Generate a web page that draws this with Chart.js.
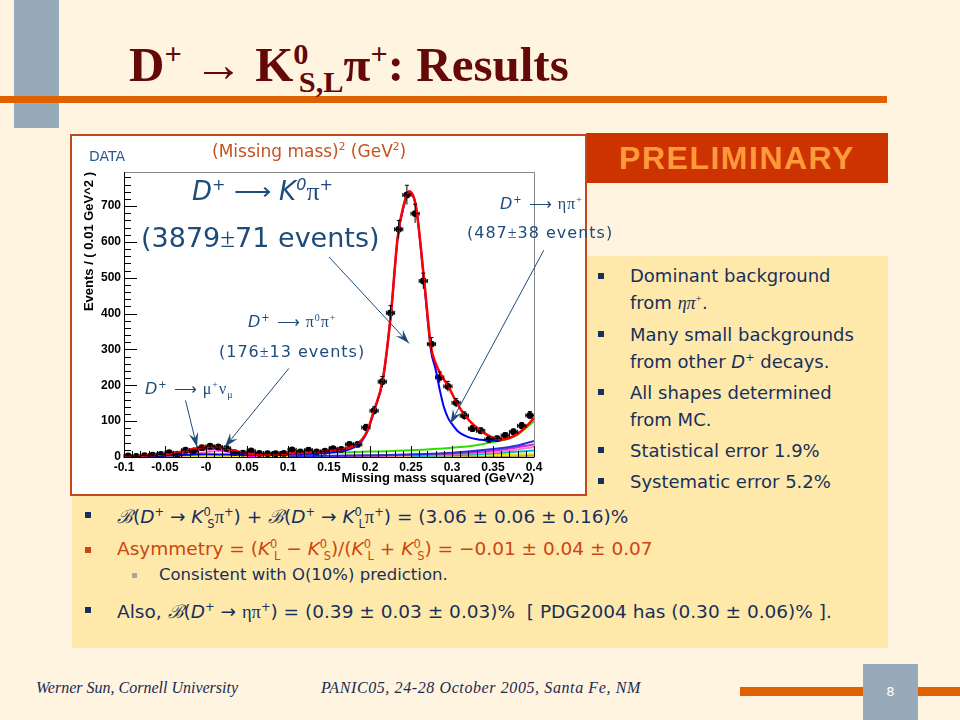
<!DOCTYPE html>
<html>
<head>
<meta charset="utf-8">
<script src="https://cdn.jsdelivr.net/npm/chart.js@4.4.1/dist/chart.umd.min.js"></script>
<style>
  body { margin:0; width:960px; height:720px; background:#FFF4DF; position:relative; overflow:hidden; font-family:"DejaVu Sans", sans-serif; }
  .abs { position:absolute; white-space:nowrap; }
  #sidebar { left:14px; top:0; width:45px; height:128px; background:#97AABA; }
  #topbar { left:0; top:96px; width:887px; height:7px; background:#DF6100; }
  #title { left:129px; top:36px; font:bold 49px "Liberation Serif", serif; color:#650808; }
  #title sup, #title sub { font-size:0.62em; }
  #yellow { left:72px; top:256px; width:816px; height:392px; background:#FFE9AA; }
  #prelim { left:586px; top:133px; width:302px; height:50px; background:#CC3300; color:#FF9A3C;
            font:bold 32px "Liberation Sans", Arial, sans-serif; text-align:center; line-height:50px; letter-spacing:1.5px; }
  #chartbox { left:70px; top:134px; width:513px; height:358px; border:2px solid #C8461C; background:#fff; }
  #chartwrap { position:absolute; left:0; top:0; width:513px; height:358px; }
  .note { color:#1E4B7A; }
  .sm { font-size:16px; letter-spacing:1px; }
  .gr { font-family:"Liberation Serif", serif; }
  .bul { color:#16305E; font-size:18px; }
  .sq { display:inline-block; width:6px; height:6px; background:#16305E; }
  .bt { color:#16305E; font-size:18.5px; }
  .bt i, .bul i { font-style:italic; }
  sup, sub { font-size:0.62em; line-height:0; }
  #footer1 { left:36px; top:679px; font:italic 16px "Liberation Serif", serif; color:#1A2A50; }
  #footer2 { left:321px; top:679px; font:italic 16px "Liberation Serif", serif; color:#1A2A50; letter-spacing:0.6px; }
  #botbar { left:740px; top:687px; width:220px; height:9px; background:#DF6100; }
  #pagebox { left:863px; top:664px; width:55px; height:56px; background:#97AABA; color:#fff; font:13px "DejaVu Sans", sans-serif; text-align:center; line-height:56px; }
</style>
</head>
<body>
<div class="abs" id="sidebar"></div>
<div class="abs" id="topbar"></div>
<div class="abs" id="title">D<sup>+</sup> → K<sup>0</sup><sub style="margin-left:-0.32em">S,L</sub>π<sup>+</sup>: Results</div>
<div class="abs" id="yellow"></div>
<div class="abs" id="prelim">PRELIMINARY</div>
<div class="abs" id="chartbox"><div id="chartwrap"><canvas id="massChart"></canvas></div></div>

<!-- chart annotations -->
<div class="abs note" style="left:89px;top:148px;font-size:14px;color:#2B5A8C;">DATA</div>
<div class="abs" style="left:212px;top:141px;font-size:17px;color:#C4531F;">(Missing mass)<sup>2</sup> (GeV<sup>2</sup>)</div>
<div class="abs note" style="left:192px;top:176px;font-size:26px;font-style:italic;">D<sup>+</sup> <span class="gr" style="font-style:normal">⟶</span> K<sup>0</sup><span class="gr" style="font-style:normal">π</span><sup>+</sup></div>
<div class="abs note" style="left:141px;top:222px;font-size:27px;">(3879<span class="gr">±</span>71 events)</div>
<div class="abs note sm" style="left:248px;top:312px;font-style:italic;">D<sup>+</sup> <span class="gr" style="font-style:normal">⟶ π<sup>0</sup>π<sup>+</sup></span></div>
<div class="abs note sm" style="left:219px;top:342px;">(176<span class="gr">±</span>13 events)</div>
<div class="abs note sm" style="left:145px;top:379px;font-style:italic;">D<sup>+</sup> <span class="gr" style="font-style:normal">⟶ μ<sup>+</sup>ν<sub>μ</sub></span></div>
<div class="abs note sm" style="left:500px;top:194px;font-style:italic;">D<sup>+</sup> <span class="gr" style="font-style:normal">⟶ ηπ<sup>+</sup></span></div>
<div class="abs note sm" style="left:467px;top:223px;">(487<span class="gr">±</span>38 events)</div>

<!-- right column -->
<div class="abs bul" style="left:598px;top:262px;line-height:27px;">
  <div><span class="sq" style="position:absolute;left:0;top:11px"></span><div style="margin-left:32px">Dominant background<br>from <span class="gr"><i>ηπ</i><sup>+</sup></span>.</div></div>
  <div style="margin-top:4px"><span class="sq" style="position:absolute;left:0;top:69px"></span><div style="margin-left:32px">Many small backgrounds<br>from other <i>D</i><sup>+</sup> decays.</div></div>
  <div style="margin-top:4px"><span class="sq" style="position:absolute;left:0;top:127px"></span><div style="margin-left:32px">All shapes determined<br>from MC.</div></div>
  <div style="margin-top:4px"><span class="sq" style="position:absolute;left:0;top:185px"></span><div style="margin-left:32px">Statistical error 1.9%</div></div>
  <div style="margin-top:4px"><span class="sq" style="position:absolute;left:0;top:216px"></span><div style="margin-left:32px">Systematic error 5.2%</div></div>
</div>

<!-- bottom bullets -->
<div class="abs sq" style="left:85px;top:512px;"></div>
<div class="abs bt" style="left:117px;top:503px;"><span class="gr"><i>ℬ</i></span>(<i>D</i><sup>+</sup> → <i>K</i><sup>0</sup><sub style="margin-left:-0.3em">S</sub><span class="gr">π</span><sup>+</sup>) + <span class="gr"><i>ℬ</i></span>(<i>D</i><sup>+</sup> → <i>K</i><sup>0</sup><sub style="margin-left:-0.3em">L</sub><span class="gr">π</span><sup>+</sup>) = (3.06 ± 0.06 ± 0.16)%</div>
<div class="abs sq" style="left:85px;top:547px;background:#CC4412;"></div>
<div class="abs bt" style="left:117px;top:538px;color:#CC4412;">Asymmetry = (<i>K</i><sup>0</sup><sub style="margin-left:-0.3em">L</sub> − <i>K</i><sup>0</sup><sub style="margin-left:-0.3em">S</sub>)/(<i>K</i><sup>0</sup><sub style="margin-left:-0.3em">L</sub> + <i>K</i><sup>0</sup><sub style="margin-left:-0.3em">S</sub>) = −0.01 ± 0.04 ± 0.07</div>
<div class="abs sq" style="left:132px;top:573px;width:5px;height:5px;background:#A8A8A0;"></div>
<div class="abs bt" style="left:159px;top:565px;font-size:16.5px;">Consistent with O(10%) prediction.</div>
<div class="abs sq" style="left:85px;top:607px;"></div>
<div class="abs bt" style="left:117px;top:598px;">Also, <span class="gr"><i>ℬ</i></span>(<i>D</i><sup>+</sup> → <span class="gr">ηπ</span><sup>+</sup>) = (0.39 ± 0.03 ± 0.03)%&nbsp; [ PDG2004 has (0.30 ± 0.06)% ].</div>

<div class="abs" id="footer1">Werner Sun, Cornell University</div>
<div class="abs" id="footer2">PANIC05, 24-28 October 2005, Santa Fe, NM</div>
<div class="abs" id="botbar"></div>
<div class="abs" id="pagebox">8</div>

<script>
// data points, 0.01 GeV^2 bins
const binCenters = [-0.095,-0.085,-0.075,-0.065,-0.055,-0.045,-0.035,-0.025,-0.015,-0.005,
                    0.005,0.015,0.025,0.035,0.045,0.055,0.065,0.075,0.085,0.095,
                    0.105,0.115,0.125,0.135,0.145,0.155,0.165,0.175,0.185,0.195,
                    0.205,0.215,0.225,0.235,0.245,0.255,0.265,0.275,0.285,0.295,
                    0.305,0.315,0.325,0.335,0.345,0.355,0.365,0.375,0.385,0.395];
const eventCounts = [3,2,4,5,7,12,8,19,17,26,
                     30,28,24,12,11,17,10,9,9,10,
                     20,14,19,14,16,23,21,35,35,82,
                     129,210,402,635,731,679,491,315,222,197,
                     151,115,79,73,49,51,60,70,87,116];
const eventErrors = [2,1.5,2,2.2,2.6,3.5,2.8,4.4,4,5,
                     5.5,5.3,5,3.5,3.3,4,3.2,3,3,3.2,
                     4.5,3.7,4.4,3.7,4,4.8,4.6,5.9,5.9,9,
                     11,14.5,20,25,27,26,22,18,15,14,
                     12,11,9,8.5,7,7,7.7,8.4,9.3,10.8];

// axis labels
const xTicks = [-0.1,-0.05,0,0.05,0.1,0.15,0.2,0.25,0.3,0.35,0.4];
const xTickLabels = ['-0.1','-0.05','-0','0.05','0.1','0.15','0.2','0.25','0.3','0.35','0.4'];
const yTicks = [0,100,200,300,400,500,600,700];

// total fit (red)
const totalX = [-0.1,-0.08,-0.06,-0.04,-0.03,-0.02,-0.01,0,0.01,0.02,0.03,0.04,0.05,0.06,0.08,0.1,0.12,0.14,0.16,0.17,0.18,0.19,0.197,0.205,0.2155,0.2256,0.2338,0.2418,0.2476,0.256,0.266,0.2744,0.28,0.287,0.296,0.307,0.317,0.327,0.337,0.347,0.36,0.37,0.38,0.39,0.4];
const totalY = [2,3,6,11,15,20,25,28,29,26,20,14,10,8,8,10,12,15,20,24,31,48,75,131,215,402,615,709,741,699,494,308,262,228,195,146,112,88,70,57,49,53,65,84,109];
// K0 pi+ signal plus small backgrounds (blue)
const signalX = [-0.1,-0.05,0,0.05,0.1,0.15,0.17,0.18,0.19,0.197,0.205,0.2155,0.2256,0.2338,0.2418,0.2476,0.256,0.266,0.2744,0.28,0.285,0.29,0.295,0.3,0.307,0.319,0.335,0.35,0.36];
const signalY = [2,4,8,6,7,12,18,26,44,72,128,212,400,612,705,737,700,488,296,245,188,140,110,92,72,56,48,46,47];
// eta pi+ and other D+ backgrounds
const bgGreenX = [0.05,0.1,0.15,0.2,0.25,0.3,0.33,0.35,0.36,0.37,0.38,0.39,0.4];
const bgGreenY = [5,8,12,15,19,26,33,42,46,52,62,80,100];
const bgBlueX = [0.1,0.2,0.3,0.35,0.38,0.4];
const bgBlueY = [2,5,12,22,32,45];
const bgMagentaX = [0.15,0.25,0.32,0.36,0.4];
const bgMagentaY = [2,6,12,20,35];
const bgPinkX = [0.2,0.3,0.36,0.4];
const bgPinkY = [3,8,15,28];
const bgCyanX = [0.25,0.32,0.4];
const bgCyanY = [3,6,18];
const bgYellowX = [-0.1,0.1,0.3,0.4];
const bgYellowY = [1,2,4,8];
const bgBrownX = [-0.1,0.2,0.4];
const bgBrownY = [0.5,1.5,4];
// mu nu and pi0 pi+ bumps near zero
const muNuX = [-0.06,-0.04,-0.02,-0.01,0,0.01,0.02,0.03,0.04,0.05,0.06];
const muNuY = [2,6,13,18,21,22,19,14,8,4,2];
const pi0piX = [-0.03,-0.01,0.01,0.02,0.03,0.05,0.07];
const pi0piY = [3,10,16,17,13,5,1];

// annotation arrows (data coordinates)
const arrowFrom = [[0.150,558],[0.412,577],[0.101,247],[-0.025,158]];
const arrowTo   = [[0.2476,317],[0.298,93],[0.023,28],[-0.011,28]];

function pts(xs, ys) { return xs.map((x, i) => ({x: x, y: ys[i]})); }
function curve(label, xs, ys, color, width) {
  return { label: label, data: pts(xs, ys), showLine: true, borderColor: color, borderWidth: width,
           pointRadius: 0, cubicInterpolationMode: 'monotone', fill: false };
}

const errorBars = {
  id: 'errorBars',
  afterDatasetsDraw(chart) {
    const ctx = chart.ctx, x = chart.scales.x, y = chart.scales.y;
    ctx.save();
    ctx.strokeStyle = '#000';
    ctx.lineWidth = 1;
    binCenters.forEach((c, i) => {
      const px = x.getPixelForValue(c), py = y.getPixelForValue(eventCounts[i]);
      const xl = x.getPixelForValue(c - 0.005), xr = x.getPixelForValue(c + 0.005);
      const yt = y.getPixelForValue(eventCounts[i] + eventErrors[i]);
      const yb = y.getPixelForValue(Math.max(0, eventCounts[i] - eventErrors[i]));
      ctx.beginPath();
      ctx.moveTo(xl, py); ctx.lineTo(xr, py);
      ctx.moveTo(xl, py - 2); ctx.lineTo(xl, py + 2);
      ctx.moveTo(xr, py - 2); ctx.lineTo(xr, py + 2);
      ctx.moveTo(px, yt); ctx.lineTo(px, yb);
      ctx.moveTo(px - 2, yt); ctx.lineTo(px + 2, yt);
      ctx.stroke();
    });
    ctx.restore();
  }
};

const rootAxes = {
  id: 'rootAxes',
  afterDraw(chart) {
    const ctx = chart.ctx, a = chart.chartArea, x = chart.scales.x, y = chart.scales.y;
    ctx.save();
    ctx.lineWidth = 1;
    ctx.strokeStyle = '#888';
    ctx.strokeRect(a.left + 0.5, a.top + 0.5, a.right - a.left, a.bottom - a.top);
    ctx.strokeStyle = '#000';
    ctx.beginPath();
    ctx.moveTo(a.left + 0.5, a.top); ctx.lineTo(a.left + 0.5, a.bottom + 0.5); ctx.lineTo(a.right, a.bottom + 0.5);
    for (let i = 0; i <= 50; i++) {
      const px = Math.round(x.getPixelForValue(-0.1 + i * 0.01)) + 0.5;
      ctx.moveTo(px, a.bottom); ctx.lineTo(px, a.bottom - (i % 5 === 0 ? 11 : 6));
    }
    for (let v = 0; v <= 780; v += 20) {
      const py = Math.round(y.getPixelForValue(v)) + 0.5;
      ctx.moveTo(a.left, py); ctx.lineTo(a.left + (v % 100 === 0 ? 13 : 7), py);
    }
    ctx.stroke();
    ctx.restore();
  }
};

const arrows = {
  id: 'arrows',
  afterDraw(chart) {
    const ctx = chart.ctx, x = chart.scales.x, y = chart.scales.y;
    ctx.save();
    ctx.strokeStyle = '#1E4B7A';
    ctx.fillStyle = '#1E4B7A';
    ctx.lineWidth = 1;
    arrowFrom.forEach((f, i) => {
      const x0 = x.getPixelForValue(f[0]), y0 = y.getPixelForValue(f[1]);
      const x1 = x.getPixelForValue(arrowTo[i][0]), y1 = y.getPixelForValue(arrowTo[i][1]);
      const ang = Math.atan2(y1 - y0, x1 - x0);
      ctx.beginPath(); ctx.moveTo(x0, y0); ctx.lineTo(x1, y1); ctx.stroke();
      ctx.beginPath();
      ctx.moveTo(x1, y1);
      ctx.lineTo(x1 - 15 * Math.cos(ang - 0.32), y1 - 15 * Math.sin(ang - 0.32));
      ctx.lineTo(x1 - 9 * Math.cos(ang), y1 - 9 * Math.sin(ang));
      ctx.lineTo(x1 - 15 * Math.cos(ang + 0.32), y1 - 15 * Math.sin(ang + 0.32));
      ctx.closePath(); ctx.fill();
    });
    ctx.restore();
  }
};

new Chart(document.getElementById('massChart'), {
  type: 'scatter',
  data: {
    datasets: [
      curve('Total fit', totalX, totalY, '#FF0000', 2.5),
      curve('K0 pi+', signalX, signalY, '#0000FF', 2),
      { label: 'Data', data: pts(binCenters, eventCounts), pointRadius: 3.4, pointBackgroundColor: '#000',
        pointBorderColor: '#000', pointBorderWidth: 0, showLine: false },
      curve('mu nu', muNuX, muNuY, '#FF00FF', 2),
      curve('pi0 pi+', pi0piX, pi0piY, '#FF66CC', 2),
      curve('bg green', bgGreenX, bgGreenY, '#33DD00', 2),
      curve('bg blue', bgBlueX, bgBlueY, '#2233DD', 2),
      curve('bg magenta', bgMagentaX, bgMagentaY, '#DD22DD', 2),
      curve('bg pink', bgPinkX, bgPinkY, '#FF77BB', 2),
      curve('bg cyan', bgCyanX, bgCyanY, '#00BBCC', 2),
      curve('bg yellow', bgYellowX, bgYellowY, '#E6E600', 2.5),
      curve('bg brown', bgBrownX, bgBrownY, '#A07030', 2)
    ]
  },
  options: {
    responsive: true,
    maintainAspectRatio: false,
    animation: false,
    events: [],
    layout: { padding: { left: 0, top: 36, right: 51, bottom: 0 } },
    plugins: { legend: { display: false }, tooltip: { enabled: false } },
    scales: {
      x: {
        type: 'linear', min: -0.1, max: 0.4,
        grid: { display: false, drawTicks: false }, border: { display: false },
        afterBuildTicks(s) { s.ticks = xTicks.map(v => ({ value: v })); },
        ticks: { padding: 3, color: '#000', font: { family: 'Liberation Sans', weight: 'bold', size: 12 },
                 maxRotation: 0, autoSkip: false,
                 callback: (v, i) => xTickLabels[i] },
        title: { display: true, text: 'Missing mass squared (GeV^2)', align: 'end', color: '#000',
                 font: { family: 'Liberation Sans', weight: 'bold', size: 13 }, padding: { top: 0, bottom: 8 } },
        afterFit(s) { s.height = 37; }
      },
      y: {
        min: 0, max: 795,
        grid: { display: false, drawTicks: false }, border: { display: false },
        afterBuildTicks(s) { s.ticks = yTicks.map(v => ({ value: v })); },
        ticks: { padding: 3, color: '#000', autoSkip: false,
                 font: { family: 'Liberation Sans', weight: 'bold', size: 12 } },
        title: { display: true, text: 'Events / ( 0.01 GeV^2 )', align: 'end', color: '#000',
                 font: { family: 'Liberation Sans', weight: 'bold', size: 13 }, padding: { top: 10, bottom: 0 } },
        afterFit(s) { s.width = 52; }
      }
    }
  },
  plugins: [errorBars, rootAxes, arrows]
});
</script>
</body>
</html>
